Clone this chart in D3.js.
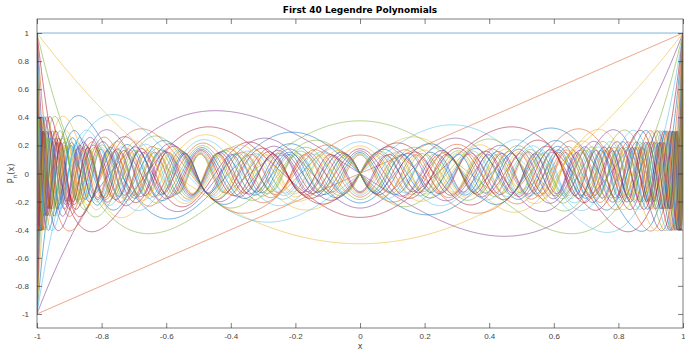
<!DOCTYPE html>
<html>
<head>
<meta charset="utf-8">
<script src="https://cdn.jsdelivr.net/npm/d3@7"></script>
<style>
  body { margin: 0; background: #fff; }
  svg { font-family: 'DejaVu Sans', sans-serif; }
</style>
</head>
<body>
<svg id="chart"></svg>
<script>
// degrees shown in the plot (first 40 Legendre polynomials)
const degrees = d3.range(0, 40);
const xTicks = [-1, -0.8, -0.6, -0.4, -0.2, 0, 0.2, 0.4, 0.6, 0.8, 1];
const yTicks = [-1, -0.8, -0.6, -0.4, -0.2, 0, 0.2, 0.4, 0.6, 0.8, 1];
const xTickLabels = ['-1', '-0.8', '-0.6', '-0.4', '-0.2', '0', '0.2', '0.4', '0.6', '0.8', '1'];
const yTickLabels = ['-1', '-0.8', '-0.6', '-0.4', '-0.2', '0', '0.2', '0.4', '0.6', '0.8', '1'];
const lineColors = ['#0072BD', '#D95319', '#EDB120', '#7E2F8E', '#77AC30', '#4DBEEE', '#A2142F'];
const xSamples = d3.range(0, 1001).map(i => -1 + i * 0.002);

// P_n(x) by Bonnet's recurrence, which is what the plotted curves are
const series = [];
let prev = xSamples.map(() => 1);
let cur = xSamples.slice();
series.push(prev, cur);
for (let n = 1; n < degrees.length - 1; n++) {
  const next = xSamples.map((x, i) => ((2 * n + 1) * x * cur[i] - n * prev[i]) / (n + 1));
  series.push(next);
  prev = cur;
  cur = next;
}

const W = 685, H = 350;
const margin = { top: 19, right: 2, bottom: 22, left: 37 };
const w = W - margin.left - margin.right;
const h = H - margin.top - margin.bottom;

const svg = d3.select('#chart').attr('width', W).attr('height', H);
const g = svg.append('g').attr('transform', `translate(${margin.left},${margin.top})`);

const x = d3.scaleLinear().domain([-1, 1]).range([0, w]);
const y = d3.scaleLinear().domain([-1.1, 1.1]).range([h, 0]);

g.append('defs').append('clipPath').attr('id', 'clip')
  .append('rect').attr('width', w).attr('height', h);

const line = d3.line()
  .x((d, i) => x(xSamples[i]))
  .y(d => y(d));

g.append('g').attr('clip-path', 'url(#clip)')
  .selectAll('path')
  .data(degrees)
  .join('path')
  .attr('d', n => line(series[n]))
  .attr('fill', 'none')
  .attr('stroke', n => lineColors[n % lineColors.length])
  .attr('stroke-width', 0.7)
  .attr('stroke-opacity', 0.8);

const axisColor = '#262626';
const tk = 5;

const styleAxis = sel => {
  sel.select('.domain').remove();
  sel.selectAll('.tick line').attr('stroke', axisColor).attr('stroke-width', 0.6);
  sel.selectAll('.tick text').attr('fill', '#444').attr('font-size', 8);
};

g.append('g').attr('transform', `translate(0,${h})`)
  .call(d3.axisBottom(x).tickValues(xTicks).tickFormat((d, i) => xTickLabels[i]).tickSizeInner(-tk).tickPadding(5))
  .call(styleAxis);
g.append('g')
  .call(d3.axisTop(x).tickValues(xTicks).tickFormat('').tickSizeInner(-tk))
  .call(styleAxis);
g.append('g')
  .call(d3.axisLeft(y).tickValues(yTicks).tickFormat((d, i) => yTickLabels[i]).tickSizeInner(-tk).tickPadding(8))
  .call(styleAxis);
g.append('g').attr('transform', `translate(${w},0)`)
  .call(d3.axisRight(y).tickValues(yTicks).tickFormat('').tickSizeInner(-tk))
  .call(styleAxis);

g.append('rect')
  .attr('width', w).attr('height', h)
  .attr('fill', 'none').attr('stroke', axisColor).attr('stroke-width', 0.6);

svg.append('text')
  .attr('x', margin.left + w / 2).attr('y', 13)
  .attr('text-anchor', 'middle').attr('font-size', 9).attr('font-weight', 'bold')
  .attr('fill', '#000')
  .text('First 40 Legendre Polynomials');

svg.append('text')
  .attr('x', margin.left + w / 2).attr('y', 349)
  .attr('text-anchor', 'middle').attr('font-size', 8).attr('fill', '#444')
  .text('x');

const yl = svg.append('text')
  .attr('transform', `translate(14,${margin.top + h / 2}) rotate(-90)`)
  .attr('text-anchor', 'middle').attr('font-size', 8).attr('fill', '#444');
yl.append('tspan').text('P');
yl.append('tspan').attr('font-size', 6).attr('dy', 3).text('n');
yl.append('tspan').attr('dy', -3).text('(x)');
</script>
</body>
</html>
